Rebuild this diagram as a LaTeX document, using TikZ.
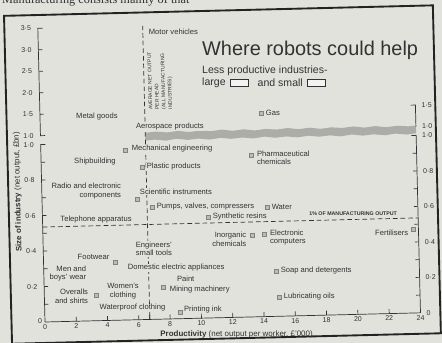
\documentclass[tikz,border=0pt]{standalone}
\usepackage{fontspec}
\setmainfont{Liberation Sans}
\newfontfamily\pagefont{Liberation Serif}
\usetikzlibrary{positioning}
\definecolor{pagegray}{RGB}{226,226,221}
\definecolor{inkgray}{RGB}{50,50,50}
\definecolor{markgray}{RGB}{186,186,182}
\definecolor{bandgray}{RGB}{172,172,168}
\definecolor{framegray}{RGB}{35,35,35}

\tikzset{
  lbl/.style={font=\fontsize{6.5}{7.3}\selectfont, text=inkgray, fill=pagegray, inner sep=0.6pt},
  marker/.style={rectangle, fill=markgray, draw=markgray!70!black, line width=0.2pt, minimum size=3.4pt, inner sep=0pt},
  ticklbl/.style={font=\fontsize{6}{6}\selectfont, text=inkgray, inner sep=1pt},
  axisline/.style={inkgray, line width=0.6pt},
  avgline/.style={inkgray, line width=0.6pt, dash pattern=on 4pt off 2.5pt},
  legtxt/.style={font=\fontsize{9}{10}\selectfont, text=inkgray, inner sep=0pt},
  legbox/.style={draw=inkgray, line width=0.5pt, fill=white!60!pagegray, minimum width=0.54cm, minimum height=0.21cm, inner sep=0pt},
}

\begin{document}
\begin{tikzpicture}
\useasboundingbox (0,0) rectangle (13.26,10.29);
\fill[pagegray] (0,0) rectangle (13.26,10.29);
\clip (0,0) rectangle (13.26,10.29);

% the whole page sits slightly tilted; x in £'000 per worker, y in £bn
\begin{scope}[shift={(1.35,0.63)}, rotate=1.4, x=0.4695cm, y=5.325cm]

% Page text above the box
\node[anchor=base west, font=\pagefont\fontsize{10.5}{12}\selectfont, text=inkgray, inner sep=0] (intro) at (-2.25,1.80) {Manufacturing consists mainly of that};

% Frame
\draw[framegray, line width=1.6pt] (-2.14,-0.118) rectangle (25.27,1.73);

% Axis break band, ragged edges
\fill[bandgray] (6.7,1.052) -- (7.4,1.057) -- (8.1,1.051) -- (8.8,1.058) -- (9.5,1.05) -- (10.2,1.057) -- (10.9,1.052)
  -- (11.6,1.059) -- (12.3,1.051) -- (13,1.058) -- (13.7,1.05) -- (14.4,1.057) -- (15.1,1.052) -- (15.8,1.059)
  -- (16.5,1.051) -- (17.2,1.058) -- (17.9,1.05) -- (18.6,1.057) -- (19.3,1.052) -- (20,1.059) -- (20.7,1.051)
  -- (21.4,1.058) -- (22.1,1.05) -- (22.8,1.057) -- (23.5,1.052) -- (24,1.055)
  -- (24,1.012) -- (23.4,1.006) -- (22.7,1.013) -- (22,1.005) -- (21.3,1.012) -- (20.6,1.006) -- (19.9,1.014)
  -- (19.2,1.005) -- (18.5,1.012) -- (17.8,1.006) -- (17.1,1.013) -- (16.4,1.005) -- (15.7,1.012) -- (15,1.006)
  -- (14.3,1.014) -- (13.6,1.005) -- (12.9,1.012) -- (12.2,1.006) -- (11.5,1.013) -- (10.8,1.005) -- (10.1,1.012)
  -- (9.4,1.006) -- (8.7,1.014) -- (8,1.005) -- (7.3,1.012) -- (6.7,1.008) -- cycle;

% Dashed reference lines
\draw[avgline] (6.7,0) -- (6.7,1.655);
\draw[axisline] (6.7,0) -- (6.7,0.05);
\draw[avgline] (0,0.535) -- (24,0.535);

% Left axis, lower and upper parts
\draw[axisline] (0,0) -- (0,1.0) -- (0.3,1.0);
\draw[axisline] (0.3,1.05) -- (0,1.05) -- (0,1.655) -- (0.3,1.655);
\foreach \y in {0.1,0.2,...,0.9}
  \draw[axisline] (0,\y) -- (0.25,\y);
\foreach \v in {1.5,2,2.5,3}
  \draw[axisline] (0,{1.05+0.242*(\v-1)}) -- ++(0.25,0);
\foreach \y/\t in {0.2/0·2,0.4/0·4,0.6/0·6,0.8/0·8,1.0/1·0}
  \node[ticklbl, anchor=east] at (-0.35,\y) {\t};
\node[ticklbl, anchor=east] at (-0.1,0.005) {0};
\foreach \v/\t in {1/1·0,1.5/1·5,2/2·0,2.5/2·5,3/3·0,3.5/3·5}
  \node[ticklbl, anchor=east] at (-0.35,{1.05+0.242*(\v-1)}) {\t};

% Right axis
\draw[axisline] (24,0) -- (24,1.0) -- (23.7,1.0);
\draw[axisline] (24,1.05) -- (24,1.171) -- (23.7,1.171);
\foreach \y in {0.1,0.2,...,0.9}
  \draw[axisline] (24,\y) -- (23.75,\y);
\foreach \y/\t in {0/0,0.2/0·2,0.4/0·4,0.6/0·6,0.8/0·8,1.0/1·0,1.05/1·0,1.171/1·5}
  \node[ticklbl, anchor=west] at (24.3,\y) {\t};

% Bottom axis
\draw[axisline] (0,0) -- (24,0);
\foreach \x in {2,4,...,24}
  \draw[axisline] (\x,0) -- (\x,0.025);
\foreach \x in {0,2,...,24}
  \node[ticklbl, anchor=north] at (\x,-0.006) {\x};

% Axis titles
\node[font=\fontsize{6.8}{7}\selectfont, text=inkgray, rotate=91.4] (ytitle) at (-1.52,0.736) {\textbf{Size of industry} (net output, £bn)};
\node[font=\fontsize{6.8}{7}\selectfont, text=inkgray, inner sep=0.5pt] (xtitle) at (12.22,-0.094) {\textbf{Productivity} (net output per worker, £'000)};

% Title and key
\node[font=\fontsize{17}{20}\selectfont, text=inkgray, anchor=west, inner sep=0] (title) at (10.45,1.511) {Where robots could help};
\node[legtxt, anchor=west] (sub) at (10.42,1.393) {Less productive industries-};
\node[legtxt, anchor=west] (lg) at (10.40,1.325) {large};
\node[legbox, right=0.12cm of lg] (lgbox) {};
\node[legtxt, right=0.27cm of lgbox] (sm) {and small};
\node[legbox, right=0.12cm of sm] (smbox) {};

% Average line caption
\node[font=\fontsize{4.3}{5.6}\selectfont, text=inkgray, rotate=91.4, anchor=north west, align=left, inner sep=0] (avgtxt) at (6.95,1.18) {AVERAGE NET OUTPUT\\PER HEAD\\(ALL MANUFACTURING\\INDUSTRIES)};
\node[font=\fontsize{4.5}{5}\selectfont\bfseries, text=inkgray, anchor=south east, inner sep=0.5pt] (pct) at (22.7,0.545) {1\% OF MANUFACTURING OUTPUT};

% Industries, upper part
\node[lbl, anchor=west] (motor) at (7.03,1.62) {Motor vehicles};
\node[lbl] (metal) at (3.64,1.148) {Metal goods};
\node[marker] (gasm) at (14.13,1.148) {};
\node[lbl, right=1.5pt of gasm] (gas) {Gas};
\node[lbl, anchor=west] (aero) at (6.06,1.086) {Aerospace products};

% Industries, lower part
\node[marker] (mechm) at (5.38,0.958) {};
\node[lbl, anchor=west] (mech) at (5.76,0.963) {Mechanical engineering};
\node[lbl] (ship) at (3.44,0.895) {Shipbuilding};
\node[marker] (plasm) at (6.44,0.86) {};
\node[lbl, right=1.5pt of plasm] (plas) {Plastic products};
\node[marker] (pharm) at (13.42,0.913) {};
\node[lbl, anchor=west, align=left] (phar) at (13.74,0.895) {Pharmaceutical\\chemicals};
\node[lbl, anchor=east, align=right] (radio) at (5.12,0.727) {Radio and electronic\\components};
\node[marker] (radiom) at (6.07,0.68) {};
\node[lbl, anchor=west] (sci) at (6.21,0.72) {Scientific instruments};
\node[marker] (pumpm) at (7.02,0.633) {};
\node[lbl, right=1.5pt of pumpm] (pump) {Pumps, valves, compressers};
\node[marker] (waterm) at (14.36,0.617) {};
\node[lbl, right=1.5pt of waterm] (water) {Water};
\node[lbl] (tele) at (3.42,0.568) {Telephone apparatus};
\node[marker] (synm) at (10.58,0.569) {};
\node[lbl, right=1.5pt of synm] (syn) {Synthetic resins};

\node[lbl] (foot) at (3.2,0.36) {Footwear};
\node[marker] (footm) at (4.57,0.328) {};
\node[lbl, anchor=west, align=left] (engs) at (5.86,0.40) {Engineers'\\small tools};
\node[lbl, anchor=west] (dom) at (5.32,0.293) {Domestic electric appliances};
\node[lbl, anchor=east, align=right] (inorg) at (13.04,0.437) {Inorganic\\chemicals};
\node[marker] (inorgm) at (13.36,0.462) {};
\node[marker] (compm) at (14.13,0.466) {};
\node[lbl, anchor=west, align=left] (comp) at (14.45,0.445) {Electronic\\computers};
\node[lbl, anchor=east] (fert) at (23.4,0.451) {Fertilisers};
\node[marker] (fertm) at (23.66,0.473) {};
\node[lbl, anchor=east, align=right] (men) at (2.76,0.268) {Men and\\boys' wear};
\node[lbl, anchor=east, align=right] (over) at (2.85,0.14) {Overalls\\and shirts};
\node[marker] (overm) at (3.3,0.145) {};
\node[lbl, align=center] (women) at (5.03,0.164) {Women's\\clothing};
\node[lbl] (wpc) at (5.61,0.067) {Waterproof clothing};
\node[lbl, anchor=west] (paint) at (8.44,0.224) {Paint};
\node[marker] (minem) at (7.6,0.181) {};
\node[lbl, anchor=west] (mine) at (7.97,0.163) {Mining machinery};
\node[marker] (printm) at (8.64,0.038) {};
\node[lbl, anchor=west] (print) at (8.84,0.054) {Printing ink};
\node[marker] (soapm) at (14.84,0.256) {};
\node[lbl, right=1.5pt of soapm] (soap) {Soap and detergents};
\node[marker] (lubm) at (14.99,0.109) {};
\node[lbl, right=1.5pt of lubm] (lub) {Lubricating oils};

\end{scope}
\end{tikzpicture}
\end{document}
